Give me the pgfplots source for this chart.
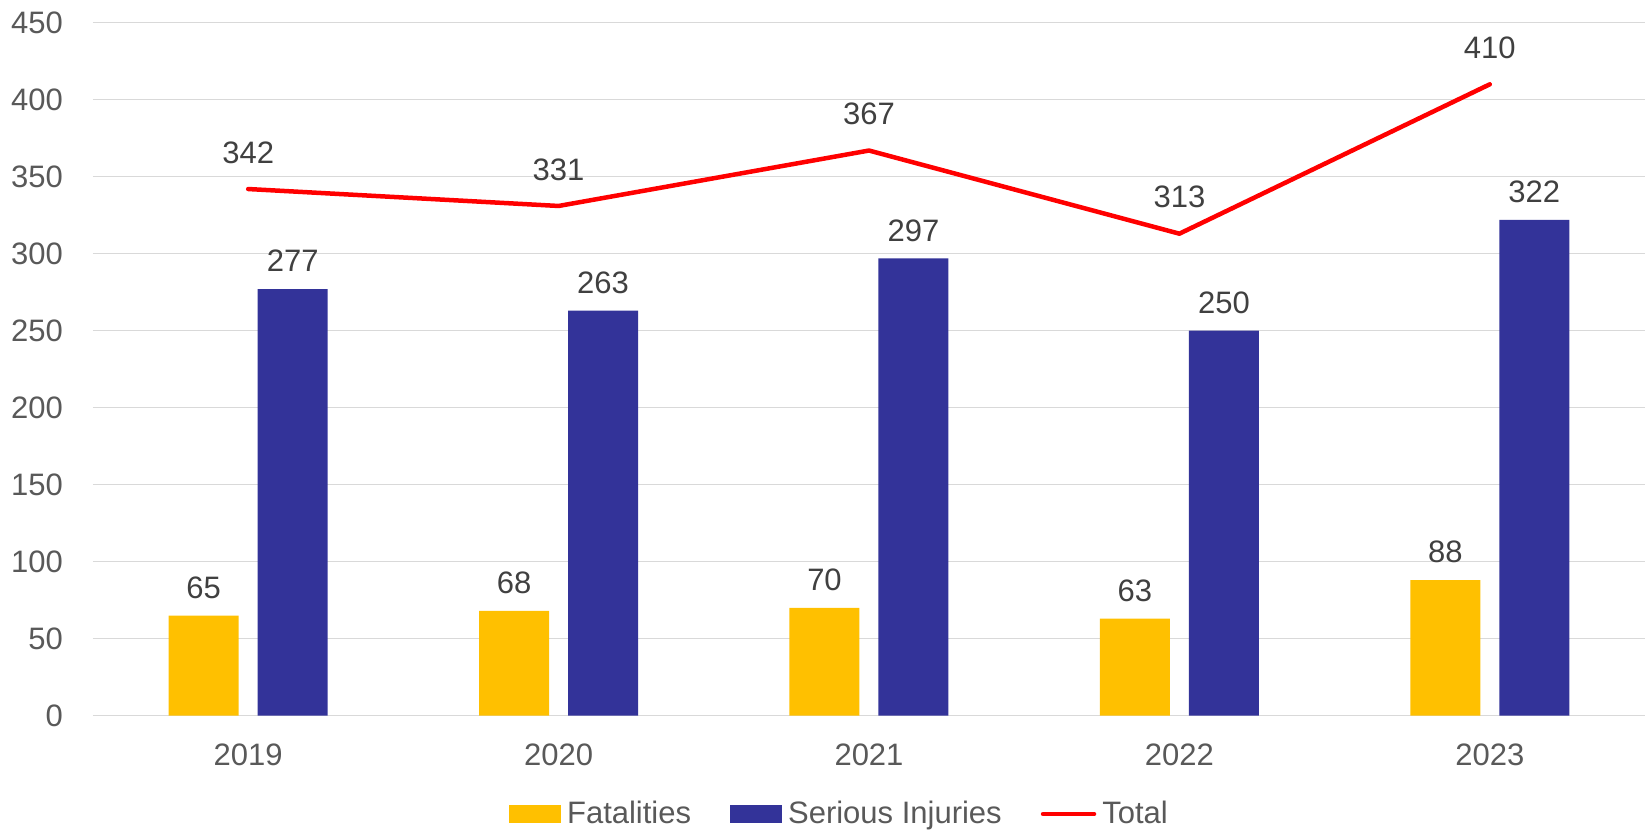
\documentclass[border=0pt]{standalone}
\usepackage{fontspec}
\setmainfont{Liberation Sans}
\usepackage{pgfplots}
\pgfplotsset{compat=1.18}
\definecolor{cyel}{HTML}{FFC000}
\definecolor{cblue}{HTML}{333399}
\definecolor{cred}{HTML}{FF0000}
\definecolor{cgrid}{HTML}{D9D9D9}
\definecolor{ctick}{HTML}{595959}
\definecolor{clab}{HTML}{404040}
\newcommand{\cf}{\fontsize{15.5}{18}\selectfont}
\begin{document}
\begin{tikzpicture}
\useasboundingbox (-46.5pt,-58.15pt) rectangle (776.5pt,357.85pt);
\begin{axis}[
  scale only axis,
  width=776pt, height=346.5pt,
  xmin=-0.5, xmax=4.5,
  ymin=0, ymax=450,
  ytick={0,50,...,450},
  xtick={0,1,2,3,4},
  xticklabels={2019,2020,2021,2022,2023},
  axis x line*=bottom, axis y line*=left,
  axis line style={draw=none},
  major tick length=0pt,
  tick style={draw=none},
  ymajorgrids,
  grid style={draw=cgrid, line width=0.75pt},
  /pgf/number format/assume math mode=true,
  yticklabel style={font=\cf, text=ctick, anchor=east, inner sep=0pt, xshift=-14.85pt},
  xticklabel style={font=\cf, text=ctick, anchor=center, inner sep=0pt, yshift=-19.5pt},
  clip=false,
  legend columns=3,
  legend style={at={(axis description cs:0.4803,-0.14185)}, anchor=center,
    draw=none, fill=none, inner sep=0pt, font=\cf, text=ctick,
    nodes={inner sep=0pt},
    /tikz/every odd column/.append style={column sep=3pt},
    /tikz/every even column/.append style={column sep=19.5pt}},
]
\addplot[ybar, bar width=35pt, bar shift=-22.25pt, fill=cyel, draw=none,
  nodes near coords, every node near coord/.append style={font=\cf, text=clab, anchor=center, inner sep=0pt, yshift=14pt, xshift=-22.25pt},
  legend image code/.code={\fill[cyel] (0pt,-4.5pt) rectangle (26pt,4.5pt);}]
  coordinates {(0,65) (1,68) (2,70) (3,63) (4,88)};
\addlegendentry{Fatalities}
\addplot[ybar, bar width=35pt, bar shift=22.25pt, fill=cblue, draw=none,
  nodes near coords, every node near coord/.append style={font=\cf, text=clab, anchor=center, inner sep=0pt, yshift=14pt, xshift=22.25pt},
  legend image code/.code={\fill[cblue] (0pt,-4.5pt) rectangle (26pt,4.5pt);}]
  coordinates {(0,277) (1,263) (2,297) (3,250) (4,322)};
\addlegendentry{Serious Injuries}
\addplot[cred, line width=2.25pt, line cap=round, line join=round, mark=none,
  nodes near coords, every node near coord/.append style={font=\cf, text=clab, anchor=center, inner sep=0pt, yshift=18.25pt},
  legend image code/.code={\draw[cred, line width=2.25pt, line cap=round] (1pt,0pt) -- (26.5pt,0pt);}]
  coordinates {(0,342) (1,331) (2,367) (3,313) (4,410)};
\addlegendentry{Total}
\end{axis}
\end{tikzpicture}
\end{document}
